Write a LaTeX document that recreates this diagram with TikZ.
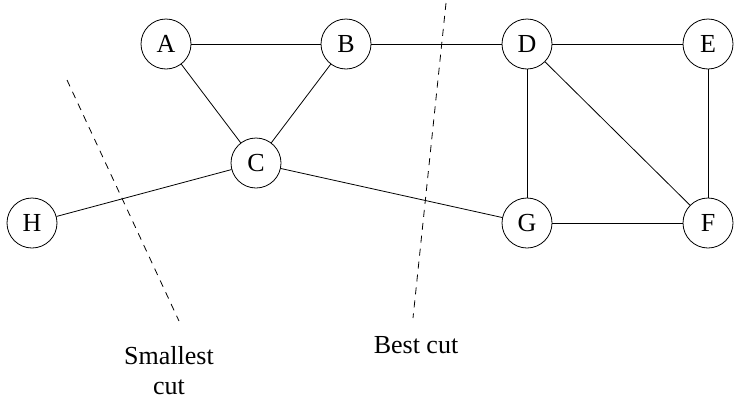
\documentclass[tikz,border=0pt]{standalone}
\usepackage{fontspec}
\setmainfont{Liberation Serif}
\usetikzlibrary{positioning}
\tikzstyle{cutGraph} = [x = 1pt, y = -1pt, every node/.style={font=\fontsize{26}{30}\selectfont}]
\tikzstyle{vertexStyle} = [circle, draw, line width=0.8pt, minimum size=50pt, inner sep=0pt]
\tikzstyle{edgeLine} = [line width=0.8pt]
\tikzstyle{cutLine} = [line width=0.8pt, dash pattern=on 7pt off 6pt]
\tikzstyle{cutText} = [align=center]
\newcommand{\vertex}[3]{\node [vertexStyle] (#1) at (#2, #3) {#1};}
\newcommand{\edge}[2]{\draw [edgeLine] (#1) -- (#2);}

\begin{document}
\begin{tikzpicture}[cutGraph]
  \useasboundingbox (0,0) rectangle (741,402);
  \vertex{A}{166}{44}
  \vertex{B}{346}{44}
  \vertex{D}{527}{44}
  \vertex{E}{708}{44}
  \vertex{C}{256}{163}
  \vertex{H}{32}{223}
  \vertex{G}{527}{223}
  \vertex{F}{708}{223}

  \foreach \from/\to in {A/B, B/D, D/E, A/C, B/C, C/H, C/G, D/G, D/F, E/F, G/F} {
    \edge{\from}{\to}
  }

  % the two cuts
  \coordinate (smallTop) at (67,80);
  \coordinate (smallBottom) at (179,321);
  \coordinate (bestTop) at (446,3);
  \coordinate (bestBottom) at (413,318);
  \draw [cutLine] (smallTop) -- (smallBottom);
  \draw [cutLine] (bestTop) -- (bestBottom);
  \node [cutText] (smallLabel) at (169,371) {Smallest\\cut};
  \node [cutText] (bestLabel) at (416,345) {Best cut};
\end{tikzpicture}
\end{document}
